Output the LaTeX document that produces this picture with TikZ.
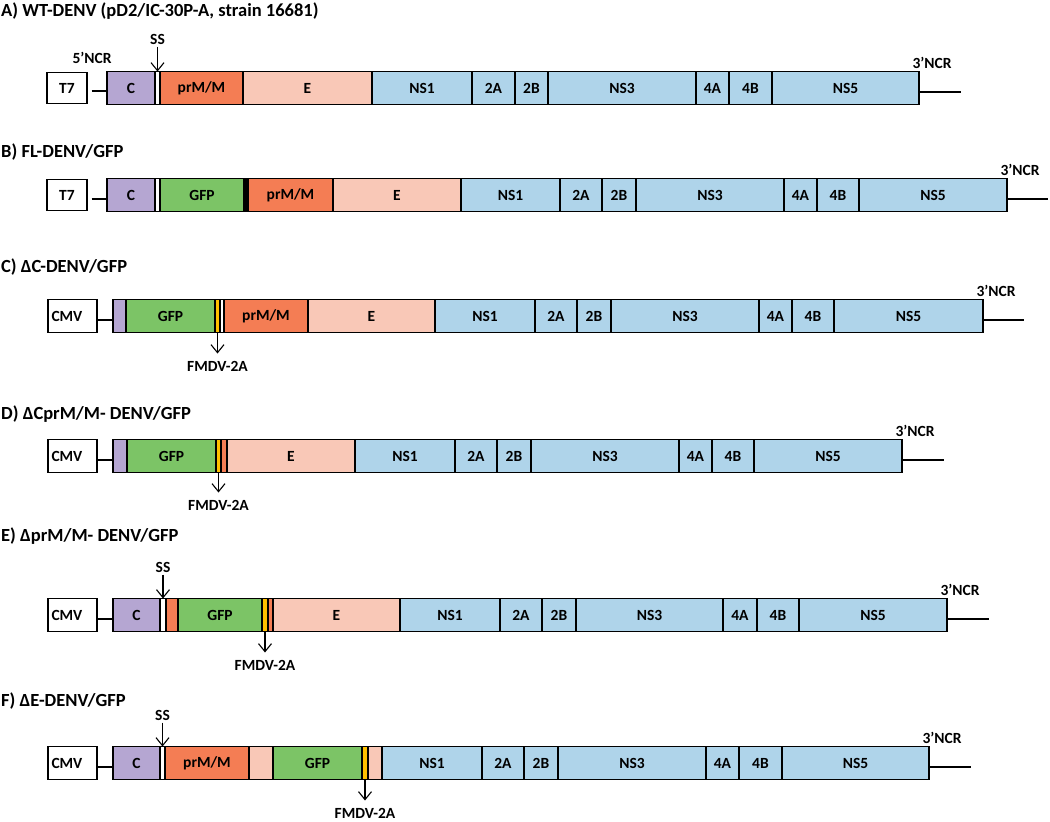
\documentclass[tikz,border=0pt]{standalone}
\usepackage{fontspec}
\setmainfont{Carlito}
\usetikzlibrary{positioning,arrows.meta}

\definecolor{cPurple}{HTML}{B5A6D2}
\definecolor{cOrange}{HTML}{F47D54}
\definecolor{cSalmon}{HTML}{F9C8B7}
\definecolor{cBlue}{HTML}{AFD4EA}
\definecolor{cGreen}{HTML}{7CC466}
\definecolor{cYellow}{HTML}{FFC000}

\tikzset{
  lbl/.style={inner sep=2pt, font=\bfseries\fontsize{15.5}{17}\selectfont},
  ttl/.style={anchor=west, inner sep=0pt, font=\bfseries\fontsize{18.5}{20}\selectfont},
  seg/.style={lbl, draw, line width=1.2pt, outer sep=0pt, inner sep=0pt, minimum height=33pt, anchor=west},
  prom/.style={lbl, draw, line width=1.2pt, minimum height=31pt, minimum width=40pt},
  cmvbox/.style={lbl, draw, line width=1.2pt, minimum height=33pt, minimum width=49pt, text width=42pt},
  pointer/.style={line width=1.1pt, -{Straight Barb[length=8pt,width=13pt]}},
  wire/.style={line width=1.2pt}
}

\begin{document}
\begin{tikzpicture}[x=1pt,y=-1pt]
\useasboundingbox (0,0) rectangle (1050,822);

% A) wild type
\node[ttl] (tA) at (1,11) {A) WT-DENV (pD2/IC-30P-A, strain 16681)};
\node[prom] (t7a) at (67,88) {T7};
\node[seg, fill=cPurple, minimum width=48] (a1) at (107,88) {C};
\node[seg, fill=white, minimum width=5, right=0pt of a1] (a2) {};
\node[seg, fill=cOrange, minimum width=83, right=0pt of a2] (a3) {prM/M};
\node[seg, fill=cSalmon, minimum width=129, right=0pt of a3] (a4) {E};
\node[seg, fill=cBlue, minimum width=100, right=0pt of a4] (a5) {NS1};
\node[seg, fill=cBlue, minimum width=43, right=0pt of a5] (a6) {2A};
\node[seg, fill=cBlue, minimum width=33, right=0pt of a6] (a7) {2B};
\node[seg, fill=cBlue, minimum width=148, right=0pt of a7] (a8) {NS3};
\node[seg, fill=cBlue, minimum width=33, right=0pt of a8] (a9) {4A};
\node[seg, fill=cBlue, minimum width=43, right=0pt of a9] (a10) {4B};
\node[seg, fill=cBlue, minimum width=147, right=0pt of a10] (a11) {NS5};
\node[lbl] (ncr5) at ([xshift=-15pt,yshift=14pt]a1.north west) {5’NCR};
\node[lbl] (ncrA) at ([xshift=13pt,yshift=9pt]a11.north east) {3’NCR};
\node[lbl, above=25pt of a2] (ssA) {SS};
\coordinate (endA) at ([xshift=42pt,yshift=-4pt]a11.east);
\draw[wire] ([xshift=4pt,yshift=-3pt]t7a.east) -- ([yshift=-3pt]a1.west);
\draw[wire] ([yshift=-4pt]a11.east) -- (endA);
\draw[pointer] (ssA.south) -- (a2.north);

% B) full length with GFP
\node[ttl] (tB) at (1,152) {B) FL-DENV/GFP};
\node[prom] (t7b) at (67,195) {T7};
\node[seg, fill=cPurple, minimum width=48] (b1) at (107,195) {C};
\node[seg, fill=white, minimum width=5, right=0pt of b1] (b2) {};
\node[seg, fill=cGreen, minimum width=84, right=0pt of b2] (b3) {GFP};
\node[seg, fill=black, minimum width=4, right=0pt of b3] (b4) {};
\node[seg, fill=cOrange, minimum width=85, right=0pt of b4] (b5) {prM/M};
\node[seg, fill=cSalmon, minimum width=128, right=0pt of b5] (b6) {E};
\node[seg, fill=cBlue, minimum width=99, right=0pt of b6] (b7) {NS1};
\node[seg, fill=cBlue, minimum width=42, right=0pt of b7] (b8) {2A};
\node[seg, fill=cBlue, minimum width=34, right=0pt of b8] (b9) {2B};
\node[seg, fill=cBlue, minimum width=148, right=0pt of b9] (b10) {NS3};
\node[seg, fill=cBlue, minimum width=33, right=0pt of b10] (b11) {4A};
\node[seg, fill=cBlue, minimum width=42, right=0pt of b11] (b12) {4B};
\node[seg, fill=cBlue, minimum width=148, right=0pt of b12] (b13) {NS5};
\node[lbl] (ncrB) at ([xshift=13pt,yshift=9pt]b13.north east) {3’NCR};
\coordinate (endB) at ([xshift=41pt,yshift=-4pt]b13.east);
\draw[wire] ([xshift=4pt,yshift=-4pt]t7b.east) -- ([yshift=-4pt]b1.west);
\draw[wire] ([yshift=-4pt]b13.east) -- (endB);

% C) capsid deletion
\node[ttl] (tC) at (1,267) {C) ΔC-DENV/GFP};
\node[cmvbox] (cmvc) at (72.5,316) {CMV};
\node[seg, fill=cPurple, minimum width=13] (c1) at (113,316) {};
\node[seg, fill=cGreen, minimum width=89, right=0pt of c1] (c2) {GFP};
\node[seg, fill=cYellow, minimum width=5, right=0pt of c2] (c3) {};
\node[seg, fill=white, minimum width=4, right=0pt of c3] (c4) {};
\node[seg, fill=cOrange, minimum width=84, right=0pt of c4] (c5) {prM/M};
\node[seg, fill=cSalmon, minimum width=127, right=0pt of c5] (c6) {E};
\node[seg, fill=cBlue, minimum width=100, right=0pt of c6] (c7) {NS1};
\node[seg, fill=cBlue, minimum width=42, right=0pt of c7] (c8) {2A};
\node[seg, fill=cBlue, minimum width=34, right=0pt of c8] (c9) {2B};
\node[seg, fill=cBlue, minimum width=148, right=0pt of c9] (c10) {NS3};
\node[seg, fill=cBlue, minimum width=33, right=0pt of c10] (c11) {4A};
\node[seg, fill=cBlue, minimum width=42, right=0pt of c11] (c12) {4B};
\node[seg, fill=cBlue, minimum width=149, right=0pt of c12] (c13) {NS5};
\node[lbl] (ncrC) at ([xshift=13pt,yshift=9pt]c13.north east) {3’NCR};
\node[lbl, below=27pt of c3] (fmC) {FMDV-2A};
\coordinate (endC) at ([xshift=41pt,yshift=-4pt]c13.east);
\draw[wire] ([yshift=-4pt]cmvc.east) -- ([yshift=-4pt]c1.west);
\draw[wire] ([yshift=-4pt]c13.east) -- (endC);
\draw[pointer, shorten >=6pt] (c3.south) -- (fmC.north);

% D) capsid and prM/M deletion
\node[ttl] (tD) at (1,414) {D) ΔCprM/M- DENV/GFP};
\node[cmvbox] (cmvd) at (72.5,456) {CMV};
\node[seg, fill=cPurple, minimum width=14] (d1) at (113,456) {};
\node[seg, fill=cGreen, minimum width=89, right=0pt of d1] (d2) {GFP};
\node[seg, fill=cYellow, minimum width=5, right=0pt of d2] (d3) {};
\node[seg, fill=cOrange, minimum width=6, right=0pt of d3] (d4) {};
\node[seg, fill=cSalmon, minimum width=128, right=0pt of d4] (d5) {E};
\node[seg, fill=cBlue, minimum width=100, right=0pt of d5] (d6) {NS1};
\node[seg, fill=cBlue, minimum width=42, right=0pt of d6] (d7) {2A};
\node[seg, fill=cBlue, minimum width=34, right=0pt of d7] (d8) {2B};
\node[seg, fill=cBlue, minimum width=148, right=0pt of d8] (d9) {NS3};
\node[seg, fill=cBlue, minimum width=33, right=0pt of d9] (d10) {4A};
\node[seg, fill=cBlue, minimum width=42, right=0pt of d10] (d11) {4B};
\node[seg, fill=cBlue, minimum width=148, right=0pt of d11] (d12) {NS5};
\node[lbl] (ncrD) at ([xshift=13pt,yshift=9pt]d12.north east) {3’NCR};
\node[lbl, below=26pt of d3] (fmD) {FMDV-2A};
\coordinate (endD) at ([xshift=42pt,yshift=-4pt]d12.east);
\draw[wire] ([yshift=-4pt]cmvd.east) -- ([yshift=-4pt]d1.west);
\draw[wire] ([yshift=-4pt]d12.east) -- (endD);
\draw[pointer, shorten >=6pt] (d3.south) -- (fmD.north);

% E) prM/M deletion
\node[ttl] (tE) at (1,536) {E) ΔprM/M- DENV/GFP};
\node[cmvbox] (cmve) at (72.5,615) {CMV};
\node[seg, fill=cPurple, minimum width=47] (e1) at (113,615) {C};
\node[seg, fill=white, minimum width=6, right=0pt of e1] (e2) {};
\node[seg, fill=cOrange, minimum width=12, right=0pt of e2] (e3) {};
\node[seg, fill=cGreen, minimum width=84, right=0pt of e3] (e4) {GFP};
\node[seg, fill=cYellow, minimum width=6, right=0pt of e4] (e5) {};
\node[seg, fill=cOrange, minimum width=5, right=0pt of e5] (e6) {};
\node[seg, fill=cSalmon, minimum width=127, right=0pt of e6] (e7) {E};
\node[seg, fill=cBlue, minimum width=100, right=0pt of e7] (e8) {NS1};
\node[seg, fill=cBlue, minimum width=42, right=0pt of e8] (e9) {2A};
\node[seg, fill=cBlue, minimum width=34, right=0pt of e9] (e10) {2B};
\node[seg, fill=cBlue, minimum width=147, right=0pt of e10] (e11) {NS3};
\node[seg, fill=cBlue, minimum width=34, right=0pt of e11] (e12) {4A};
\node[seg, fill=cBlue, minimum width=42, right=0pt of e12] (e13) {4B};
\node[seg, fill=cBlue, minimum width=148, right=0pt of e13] (e14) {NS5};
\node[lbl] (ncrE) at ([xshift=13pt,yshift=9pt]e14.north east) {3’NCR};
\node[lbl, above=24pt of e2] (ssE) {SS};
\node[lbl, below=27pt of e5] (fmE) {FMDV-2A};
\coordinate (endE) at ([xshift=42pt,yshift=-4pt]e14.east);
\draw[wire] ([yshift=-4pt]cmve.east) -- ([yshift=-4pt]e1.west);
\draw[wire] ([yshift=-4pt]e14.east) -- (endE);
\draw[pointer] (ssE.south) -- (e2.north);
\draw[pointer, shorten >=6pt] (e5.south) -- (fmE.north);

% F) envelope deletion
\node[ttl] (tF) at (1,701) {F) ΔE-DENV/GFP};
\node[cmvbox] (cmvf) at (72.5,763) {CMV};
\node[seg, fill=cPurple, minimum width=47] (f1) at (113,763) {C};
\node[seg, fill=white, minimum width=5, right=0pt of f1] (f2) {};
\node[seg, fill=cOrange, minimum width=84, right=0pt of f2] (f3) {prM/M};
\node[seg, fill=cSalmon, minimum width=24, right=0pt of f3] (f4) {};
\node[seg, fill=cGreen, minimum width=89, right=0pt of f4] (f5) {GFP};
\node[seg, fill=cYellow, minimum width=6, right=0pt of f5] (f6) {};
\node[seg, fill=cSalmon, minimum width=14, right=0pt of f6] (f7) {};
\node[seg, fill=cBlue, minimum width=100, right=0pt of f7] (f8) {NS1};
\node[seg, fill=cBlue, minimum width=42, right=0pt of f8] (f9) {2A};
\node[seg, fill=cBlue, minimum width=34, right=0pt of f9] (f10) {2B};
\node[seg, fill=cBlue, minimum width=148, right=0pt of f10] (f11) {NS3};
\node[seg, fill=cBlue, minimum width=33, right=0pt of f11] (f12) {4A};
\node[seg, fill=cBlue, minimum width=43, right=0pt of f12] (f13) {4B};
\node[seg, fill=cBlue, minimum width=147, right=0pt of f13] (f14) {NS5};
\node[lbl] (ncrF) at ([xshift=13pt,yshift=9pt]f14.north east) {3’NCR};
\node[lbl, above=24pt of f2] (ssF) {SS};
\node[lbl, below=27pt of f6] (fmF) {FMDV-2A};
\coordinate (endF) at ([xshift=42pt,yshift=-4pt]f14.east);
\draw[wire] ([yshift=-4pt]cmvf.east) -- ([yshift=-4pt]f1.west);
\draw[wire] ([yshift=-4pt]f14.east) -- (endF);
\draw[pointer] (ssF.south) -- (f2.north);
\draw[pointer, shorten >=6pt] (f6.south) -- (fmF.north);
\end{tikzpicture}
\end{document}
